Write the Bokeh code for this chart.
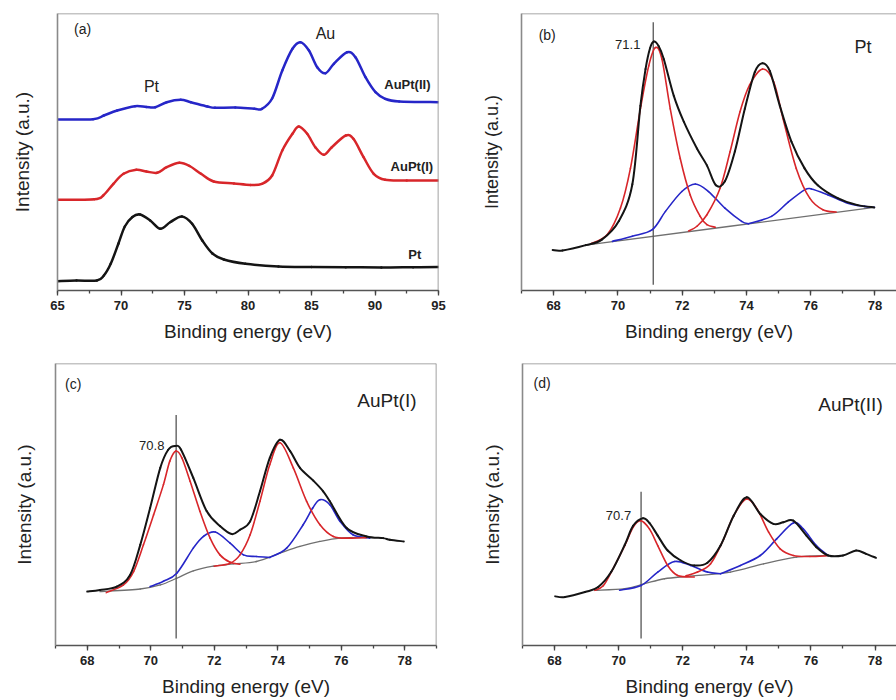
from bokeh.plotting import figure
from bokeh.layouts import column, row
from bokeh.models import (Label, SingleIntervalTicker, FixedTicker, Range1d,
                          ColumnDataSource, Span)
from bokeh.embed import file_html
from bokeh.resources import INLINE

FONT = "Liberation Sans"

# ---------------- Panel (a): survey spectra ----------------
a_pt_x = [65, 66.5, 68.1, 68.65, 69.2, 69.8, 70.3, 70.9, 71.5, 72.3, 73.1, 73.9, 74.8, 75.6,
          76.4, 77.2, 78.1, 79.8, 82.4, 85.0, 87.7, 90.5, 93.0, 95]
a_pt_y = [9.3, 10, 10, 15, 27, 47, 64, 73.5, 76, 70, 61.7, 68.5, 74, 66.7,
          50, 37, 31, 26.7, 24, 23.5, 23.3, 23, 23.3, 23.5]
a_i_x = [65, 67.9, 68.6, 69.4, 70.2, 71.2, 72.0, 72.85, 73.6, 74.6, 75.4, 76.3, 77.3, 78.9,
         80.2, 81.1, 81.9, 82.7, 83.5, 84.0, 84.66, 85.3, 85.97, 86.6, 87.7, 88.3, 89.1,
         89.9, 90.8, 92.5, 95]
a_i_y = [90.7, 91.3, 95, 106.7, 116.7, 120.7, 119, 117.7, 123.3, 127.7, 124.5, 116.7, 109, 107,
         105.5, 106.7, 115, 140, 156.7, 164, 156.7, 143.3, 135.7, 143.3, 155, 151.7, 133.3,
         116.7, 110.7, 110, 110]
a_ii_x = [65, 67.8, 68.65, 69.7, 71.1, 72.0, 72.7, 73.6, 74.7, 75.5, 76.8, 77.4, 79.0, 80.5,
          81.1, 81.9, 82.7, 83.5, 84.13, 84.8, 85.45, 86.1, 86.76, 87.8, 88.46, 89.25, 90.04,
          90.8, 91.9, 95]
a_ii_y = [171, 171.3, 175, 180, 184.3, 183.5, 183.3, 188.3, 190.7, 188.3, 184, 182.7, 183, 181.7,
          181.7, 192, 220, 241.7, 248.3, 240, 223.3, 217.3, 226.7, 238.3, 233.3, 213.3, 198.3,
          191.7, 189, 188.3]

# ---------------- Panel (b): Pt ----------------
b_tot_x = [67.97, 68.28, 69.0, 69.5, 70.03, 70.45, 70.7, 70.86, 71.0, 71.12, 71.27, 71.43, 71.74,
           72.05, 72.46, 72.77, 73.05, 73.33, 73.64, 73.95, 74.26, 74.5, 74.73, 75.04, 75.4,
           75.81, 76.22, 76.84, 77.46, 77.98]
b_tot_y = [40.7, 40.3, 45.7, 51.3, 70, 107, 186, 223, 244, 250.7, 246, 233, 196,
           170, 143, 126, 106, 110, 140, 183, 220, 229, 221, 186, 150,
           123, 106, 93, 86, 83.7]
b_r1_x = [69.15, 69.67, 70.08, 70.39, 70.7, 70.96, 71.17, 71.37, 71.63, 71.94, 72.25, 72.56,
          72.77, 73.03]
b_r1_y = [47, 56.3, 83, 123, 183, 226.3, 244.7, 233, 183, 133, 96.3, 74.7, 66.3, 63.7]
b_r2_x = [72.2, 72.46, 72.77, 73.18, 73.49, 73.8, 74.1, 74.5, 74.85, 75.14, 75.55, 75.97,
          76.38, 76.79]
b_r2_y = [60, 64.7, 76.3, 103, 139.7, 180, 207, 223, 210, 173, 123, 93, 81.3, 79]
b_b1_x = [69.83, 70.45, 71.07, 71.48, 71.99, 72.41, 72.82, 73.33, 73.85, 74.06]
b_b1_y = [49.5, 54.7, 61.3, 79.7, 99.7, 107.3, 99.7, 83, 69.7, 67.3]
b_b2_x = [74.06, 74.78, 75.3, 75.81, 76.02, 76.54, 77.15, 77.67, 77.98]
b_b2_y = [67.3, 74.7, 89, 101.3, 102.3, 96.3, 88, 84.7, 83.7]
b_bg_x = [69.0, 77.98]
b_bg_y = [45.7, 83.7]
b_vline = dict(x=[71.1], y0=[5.7], y1=[270.3])

# ---------------- Panel (c): AuPt(I) ----------------
c_tot_x = [68.0, 68.4, 68.93, 69.35, 69.67, 69.98, 70.3, 70.55, 70.77, 70.95, 71.34, 71.76,
           72.18, 72.55, 72.81, 73.13, 73.44, 73.75, 74.07, 74.39, 74.7, 75.12, 75.43, 75.64,
           76.17, 76.8, 77.32, 77.53, 77.97]
c_tot_y = [53.7, 55.3, 58.7, 70.3, 100.3, 137, 177, 195, 198.7, 195.3, 167, 134,
           119, 111, 115.3, 123.7, 153.7, 187, 205, 193.7, 177, 164.3, 153.7, 143.7,
           117, 108.7, 107, 105.3, 103.7]
c_r1_x = [68.6, 69.14, 69.46, 69.77, 70.09, 70.4, 70.6, 70.79, 70.98, 71.24, 71.55, 71.87,
          72.18, 72.5, 72.81]
c_r1_y = [52.7, 60.3, 73.7, 100.3, 130.3, 160.3, 183.7, 193.7, 187, 163.7, 133.7, 107,
          90.3, 83, 81]
c_r2_x = [72.0, 72.5, 72.81, 73.13, 73.44, 73.75, 74.07, 74.49, 74.91, 75.33, 75.75, 76.27, 76.8]
c_r2_y = [79, 82, 90.3, 110.3, 143.7, 180.3, 202, 177, 143.7, 120.3, 108.7, 107, 107.5]
c_b1_x = [69.98, 70.4, 70.82, 71.34, 71.66, 72.03, 72.5, 72.92, 73.33, 73.75]
c_b1_y = [58.7, 64, 72, 97, 108.7, 113, 102, 90.3, 88.7, 87.7]
c_b2_x = [73.75, 74.28, 74.8, 75.1, 75.33, 75.64, 75.96, 76.37, 76.9]
c_b2_y = [87.7, 97, 120.3, 137, 145.3, 140.3, 123.7, 110.3, 107]
c_bg_x = [68.4, 69.67, 70.3, 70.82, 71.34, 71.97, 72.6, 73.33, 74.07, 74.7, 75.33, 75.96, 76.8]
c_bg_y = [53.7, 56.3, 60.3, 67, 74.3, 79, 81.3, 83.7, 92, 98.7, 103.7, 107, 107.7]
c_vline = dict(x=[70.8], y0=[7], y1=[229.7])

# ---------------- Panel (d): AuPt(II) ----------------
d_tot_x = [68.02, 68.33, 68.95, 69.36, 69.77, 70.19, 70.45, 70.76, 70.96, 71.22, 71.53, 71.94,
           72.36, 72.77, 73.18, 73.59, 74.0, 74.42, 74.83, 75.14, 75.45, 75.86, 76.17, 76.54,
           77.0, 77.41, 77.72, 78.03]
d_tot_y = [49.3, 48.7, 53.7, 58.7, 74, 101, 120, 127.7, 123, 110.3, 95.3, 85.3,
           80.3, 83, 100.3, 130.3, 148.7, 132, 122, 123.7, 125.3, 110.3, 98.7, 90.3,
           90.3, 95.3, 92, 88]
d_r1_x = [69.26, 69.52, 69.77, 70.19, 70.45, 70.68, 70.96, 71.22, 71.53, 71.84, 72.36]
d_r1_y = [55.3, 60, 73.7, 100.3, 118.7, 125.3, 117, 100.3, 80.3, 70.3, 68.7]
d_r2_x = [72.1, 72.46, 72.87, 73.28, 73.59, 73.98, 74.32, 74.68, 75.04, 75.45, 75.97, 76.5]
d_r2_y = [70, 73.7, 82, 107, 130.3, 147, 137, 113.7, 97, 90.3, 89.3, 90]
d_b1_x = [70.03, 70.7, 71.22, 71.74, 72.25, 72.77, 73.18]
d_b1_y = [55.5, 60.3, 73.7, 84.3, 80.3, 73.7, 72]
d_b2_x = [73.18, 73.8, 74.42, 74.93, 75.45, 75.76, 76.17, 76.54]
d_b2_y = [72, 80.3, 90.3, 107, 123, 117, 100.3, 90.3]
d_bg_x = [69.26, 70.19, 70.81, 71.43, 72.25, 73.49, 74.52, 75.55, 76.54]
d_bg_y = [55.3, 57, 62, 67, 69.7, 73.7, 82, 88.7, 90.3]
d_vline = dict(x=[70.7], y0=[7], y1=[154.3])

BLACK = "#141414"
RED = "#d8262a"
BLUE = "#2626c8"
GREY = "#707070"
FRAME = "#8a8a8a"


def smooth(p, xs, ys, color, width):
    """Draw the read points as one smooth curve (Catmull-Rom rendered as Bezier pieces)."""
    n = len(xs)
    x0, y0, x1, y1, cx0, cy0, cx1, cy1 = [], [], [], [], [], [], [], []
    for i in range(n - 1):
        xm, ym = (xs[i - 1], ys[i - 1]) if i > 0 else (xs[i], ys[i])
        xp, yp = (xs[i + 2], ys[i + 2]) if i + 2 < n else (xs[i + 1], ys[i + 1])
        x0.append(xs[i]); y0.append(ys[i]); x1.append(xs[i + 1]); y1.append(ys[i + 1])
        cx0.append(xs[i] + (xs[i + 1] - xm) / 6.0)
        cy0.append(ys[i] + (ys[i + 1] - ym) / 6.0)
        cx1.append(xs[i + 1] - (xp - xs[i]) / 6.0)
        cy1.append(ys[i + 1] - (yp - ys[i]) / 6.0)
    src = ColumnDataSource(dict(x0=x0, y0=y0, x1=x1, y1=y1, cx0=cx0, cy0=cy0, cx1=cx1, cy1=cy1))
    p.bezier(x0="x0", y0="y0", x1="x1", y1="y1", cx0="cx0", cy0="cy0", cx1="cx1", cy1="cy1",
             source=src, line_color=color, line_width=width, line_cap="round")


def make_panel(W, H, L, R, T, B, xr, yh, interval, ylab_standoff, right_border=True,
               ylab_size="19px"):
    p = figure(width=W, height=H, x_range=Range1d(*xr), y_range=Range1d(0, yh),
               output_backend="svg", toolbar_location=None,
               min_border_left=L, min_border_right=R, min_border_top=T, min_border_bottom=B)
    p.xgrid.visible = False
    p.ygrid.visible = False
    p.background_fill_color = "white"
    p.border_fill_color = "white"
    p.outline_line_color = None
    xa = p.below[0]
    xa.ticker = SingleIntervalTicker(interval=interval, num_minor_ticks=2)
    xa.major_tick_out = 5
    xa.major_tick_in = 0
    xa.minor_tick_out = 3
    xa.minor_tick_in = 0
    xa.major_tick_line_color = "#444444"
    xa.minor_tick_line_color = "#444444"
    xa.major_tick_line_width = 1.3
    xa.minor_tick_line_width = 1.3
    xa.axis_line_color = "#555555"
    xa.axis_line_width = 1.6
    xa.major_label_text_font = FONT
    xa.major_label_text_font_style = "bold"
    xa.major_label_text_font_size = "13px"
    xa.major_label_text_color = "#222222"
    xa.major_label_standoff = 5
    xa.axis_label = "Binding energy (eV)"
    xa.axis_label_text_font = FONT
    xa.axis_label_text_font_style = "normal"
    xa.axis_label_text_font_size = "19px"
    xa.axis_label_text_color = "#222222"
    xa.axis_label_standoff = 8
    ya = p.left[0]
    ya.ticker = FixedTicker(ticks=[])
    ya.major_tick_out = 0
    ya.minor_tick_out = 0
    ya.major_tick_in = 0
    ya.minor_tick_in = 0
    ya.major_label_text_font_size = "0px"
    ya.major_label_standoff = 0
    ya.axis_line_color = FRAME
    ya.axis_line_width = 1.6
    ya.axis_label = "Intensity (a.u.)"
    ya.axis_label_text_font = FONT
    ya.axis_label_text_font_style = "normal"
    ya.axis_label_text_font_size = ylab_size
    ya.axis_label_text_color = "#222222"
    ya.axis_label_standoff = ylab_standoff
    p.add_layout(Span(location=p.y_range.end, dimension="width", line_color=FRAME,
                      line_width=1.6))
    if right_border:
        p.add_layout(Span(location=p.x_range.end, dimension="height", line_color=FRAME,
                          line_width=1.6))
    return p


def lbl(p, x, y, text, size, align="center", bold=False, color="#222222"):
    p.add_layout(Label(x=x, y=y, text=text, text_font=FONT, text_font_size=size,
                       text_font_style="bold" if bold else "normal", text_color=color,
                       text_align=align, text_baseline="middle"))


# ---- (a)
pa = make_panel(478, 344, 57, 40, 13, 54, (65, 95), 277, 5, 25)
smooth(pa, a_pt_x, a_pt_y, BLACK, 2.5)
smooth(pa, a_i_x, a_i_y, RED, 2.5)
smooth(pa, a_ii_x, a_ii_y, BLUE, 2.5)
lbl(pa, 66.97, 262, "(a)", "14px")
lbl(pa, 72.4, 204, "Pt", "16px")
lbl(pa, 86.1, 257, "Au", "16px")
lbl(pa, 94.37, 206, "AuPt(II)", "13px", align="right", bold=True)
lbl(pa, 94.58, 124.3, "AuPt(I)", "13px", align="right", bold=True)
lbl(pa, 93.64, 35.7, "Pt", "13px", align="right", bold=True)

# ---- (b)
pb = make_panel(418, 344, 41, 0, 13, 54, (67.0, 78.67), 279, 2, 20, right_border=False,
                ylab_size="18px")
smooth(pb, b_bg_x, b_bg_y, GREY, 1.3)
pb.segment(x0="x", y0="y0", x1="x", y1="y1", source=ColumnDataSource(b_vline),
           line_color="#555555", line_width=1.3)
smooth(pb, b_b1_x, b_b1_y, BLUE, 1.6)
smooth(pb, b_b2_x, b_b2_y, BLUE, 1.6)
smooth(pb, b_r1_x, b_r1_y, RED, 1.6)
smooth(pb, b_r2_x, b_r2_y, RED, 1.6)
smooth(pb, b_tot_x, b_tot_y, BLACK, 2.0)
lbl(pb, 67.8, 257, "(b)", "14px")
lbl(pb, 70.7, 248, "71.1", "13px", align="right")
lbl(pb, 77.63, 245, "Pt", "18px")

# ---- (c)
pc = make_panel(478, 356, 55, 42, 19, 55, (67.0, 79.0), 281, 2, 21)
smooth(pc, c_bg_x, c_bg_y, GREY, 1.3)
pc.segment(x0="x", y0="y0", x1="x", y1="y1", source=ColumnDataSource(c_vline),
           line_color="#555555", line_width=1.3)
smooth(pc, c_b1_x, c_b1_y, BLUE, 1.6)
smooth(pc, c_b2_x, c_b2_y, BLUE, 1.6)
smooth(pc, c_r1_x, c_r1_y, RED, 1.6)
smooth(pc, c_r2_x, c_r2_y, RED, 1.6)
smooth(pc, c_tot_x, c_tot_y, BLACK, 2.0)
lbl(pc, 67.56, 261, "(c)", "14px")
lbl(pc, 70.43, 199.7, "70.8", "13px", align="right")
lbl(pc, 78.37, 243.7, "AuPt(I)", "19px", align="right")

# ---- (d)
pd_ = make_panel(418, 356, 41, 0, 19, 55, (67.0, 78.67), 283, 2, 20, right_border=False)
smooth(pd_, d_bg_x, d_bg_y, GREY, 1.3)
pd_.segment(x0="x", y0="y0", x1="x", y1="y1", source=ColumnDataSource(d_vline),
            line_color="#555555", line_width=1.3)
smooth(pd_, d_b1_x, d_b1_y, BLUE, 1.6)
smooth(pd_, d_b2_x, d_b2_y, BLUE, 1.6)
smooth(pd_, d_r1_x, d_r1_y, RED, 1.6)
smooth(pd_, d_r2_x, d_r2_y, RED, 1.6)
smooth(pd_, d_tot_x, d_tot_y, BLACK, 2.0)
lbl(pd_, 67.61, 263.7, "(d)", "14px")
lbl(pd_, 70.39, 130.3, "70.7", "13px", align="right")
lbl(pd_, 78.24, 242, "AuPt(II)", "19px", align="right")

layout = column(row(pa, pb), row(pc, pd_))
open("out.html", "w").write(file_html(layout, INLINE))
